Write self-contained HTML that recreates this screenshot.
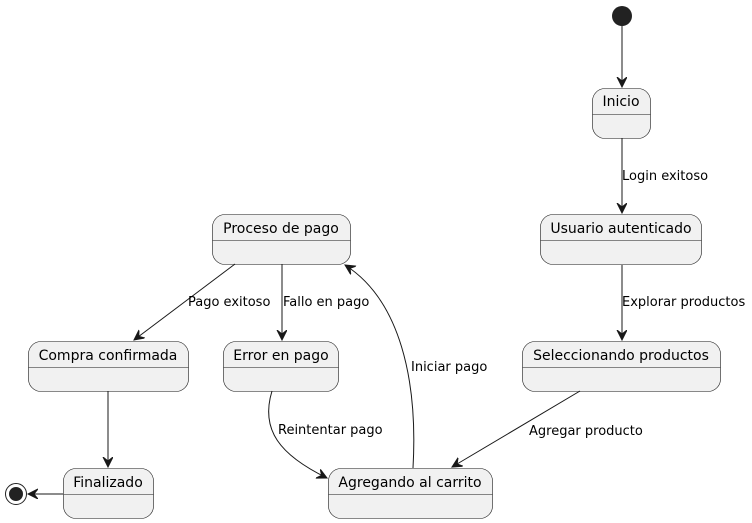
<!DOCTYPE html>
<html><head><style>body{margin:0;background:#fff}svg{display:block}text{font-family:"DejaVu Sans","Liberation Sans",sans-serif;fill:#000}</style></head>
<body>
<svg width="752" height="523" viewBox="0 0 752 523" xmlns="http://www.w3.org/2000/svg">
<defs>
<marker id="a" markerWidth="12" markerHeight="12" refX="10" refY="5" orient="auto" markerUnits="userSpaceOnUse">
<path d="M0,0 L10,5 L0,10 L4,5 Z" fill="#181818" stroke="#181818" stroke-width="1"/>
</marker>
</defs>
<g fill="#F1F1F1" stroke="#181818" stroke-width="0.6">
<rect x="592.5" y="88.5" width="58" height="50" rx="12.5"/><line x1="592.5" y1="114.5" x2="650.5" y2="114.5"/>
<rect x="540.5" y="214.5" width="161" height="50" rx="12.5"/><line x1="540.5" y1="240.5" x2="701.5" y2="240.5"/>
<rect x="522.5" y="341.5" width="198" height="50" rx="12.5"/><line x1="522.5" y1="367.5" x2="720.5" y2="367.5"/>
<rect x="328.5" y="468.5" width="164" height="50" rx="12.5"/><line x1="328.5" y1="494.5" x2="492.5" y2="494.5"/>
<rect x="212.5" y="214.5" width="138" height="50" rx="12.5"/><line x1="212.5" y1="240.5" x2="350.5" y2="240.5"/>
<rect x="28.5" y="341.5" width="160" height="50" rx="12.5"/><line x1="28.5" y1="367.5" x2="188.5" y2="367.5"/>
<rect x="223.5" y="341.5" width="115" height="50" rx="12.5"/><line x1="223.5" y1="367.5" x2="338.5" y2="367.5"/>
<rect x="63.5" y="468.5" width="90" height="50" rx="12.5"/><line x1="63.5" y1="494.5" x2="153.5" y2="494.5"/>
</g>
<circle cx="622" cy="16" r="10" fill="#222"/>
<circle cx="16" cy="494" r="10.5" fill="none" stroke="#222" stroke-width="1"/>
<circle cx="16" cy="494" r="7" fill="#222"/>
<g fill="none" stroke="#181818" stroke-width="1" marker-end="url(#a)">
<line x1="622" y1="26" x2="622" y2="87"/>
<line x1="622" y1="138" x2="622" y2="213"/>
<line x1="622" y1="265" x2="622" y2="340"/>
<line x1="580" y1="391" x2="452" y2="467"/>
<path d="M413,468 C418,380 400,300 345,265"/>
<path d="M272,391 C260,430 280,455 327,478"/>
<line x1="282" y1="264" x2="282" y2="340"/>
<line x1="235" y1="264" x2="134" y2="340"/>
<line x1="108" y1="391" x2="108" y2="467"/>
<line x1="63" y1="494" x2="28" y2="494"/>
</g>
<g font-size="14" text-anchor="middle">
<text x="621" y="106">Inicio</text>
<text x="621" y="233">Usuario autenticado</text>
<text x="621" y="360">Seleccionando productos</text>
<text x="410" y="487">Agregando al carrito</text>
<text x="281" y="233">Proceso de pago</text>
<text x="108" y="360">Compra confirmada</text>
<text x="281" y="360">Error en pago</text>
<text x="108" y="487">Finalizado</text>
</g>
<g font-size="13">
<text x="622" y="180">Login exitoso</text>
<text x="622" y="306">Explorar productos</text>
<text x="529" y="435">Agregar producto</text>
<text x="411" y="371">Iniciar pago</text>
<text x="278" y="434">Reintentar pago</text>
<text x="283" y="306">Fallo en pago</text>
<text x="188" y="306">Pago exitoso</text>
</g>
</svg>
</body></html>
